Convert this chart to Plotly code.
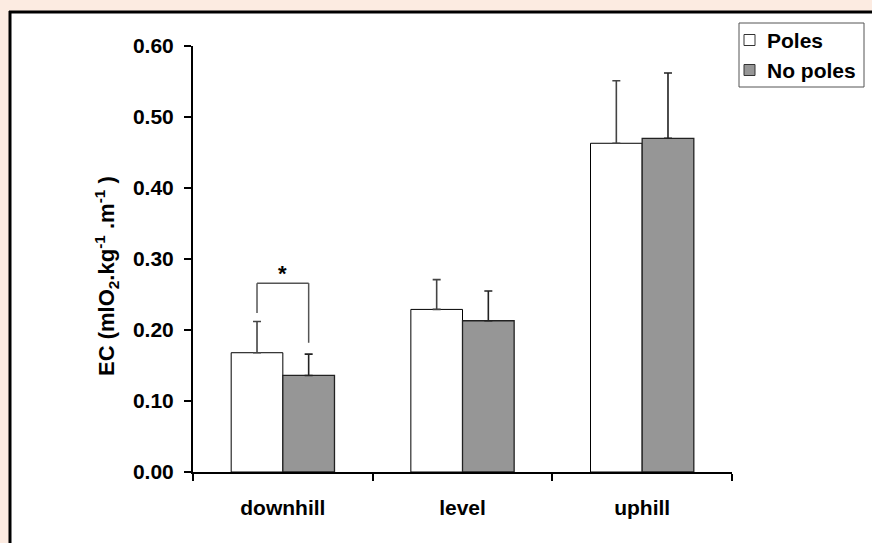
import plotly.graph_objects as go

# ---- data ----
categories = ["downhill", "level", "uphill"]
poles = [0.168, 0.229, 0.463]
poles_sd = [0.044, 0.042, 0.088]
no_poles = [0.136, 0.213, 0.470]
no_poles_sd = [0.030, 0.042, 0.092]
y_ticks = [0.0, 0.1, 0.2, 0.3, 0.4, 0.5, 0.6]
series_names = ["Poles", "No poles"]

# significance bracket (downhill) heights in data units
bracket_top = 0.266
bracket_left_bottom = 0.224
bracket_right_bottom = 0.182

W, H = 872, 543
ML, MR, MT, MB = 193, 140, 46, 71
PW, PH = W - ML - MR, H - MT - MB

BARGAP = 0.425
bar_w = (1 - BARGAP) / 2

FONT = "Liberation Sans, Arial, Helvetica, sans-serif"
FS = 21
PEACH = "#FCEBE1"
GREY = "#969696"
fills = ["white", GREY]


def px_x(px):
    return (px - ML) / PW


def px_y(py):
    return (H - MB - py) / PH


fig = go.Figure()
fig.add_trace(go.Bar(
    x=categories, y=poles, name=series_names[0], showlegend=False,
    marker=dict(color=fills[0], line=dict(color="black", width=1)),
    error_y=dict(type="data", symmetric=False, array=poles_sd,
                 arrayminus=[0] * len(poles), color="#444444",
                 thickness=1.6, width=4),
))
fig.add_trace(go.Bar(
    x=categories, y=no_poles, name=series_names[1], showlegend=False,
    marker=dict(color=fills[1], line=dict(color="#222222", width=1.3)),
    error_y=dict(type="data", symmetric=False, array=no_poles_sd,
                 arrayminus=[0] * len(no_poles), color="#222222",
                 thickness=1.6, width=4),
))

shapes = [
    # outer frame: white panel, then left and top borders
    dict(type="rect", xref="paper", yref="paper",
         x0=px_x(10), x1=px_x(W), y0=px_y(H), y1=px_y(12),
         line=dict(width=0), fillcolor="white", layer="below"),
    dict(type="line", xref="paper", yref="paper",
         x0=px_x(10), x1=px_x(10), y0=px_y(H), y1=px_y(11),
         line=dict(color="black", width=3), layer="below"),
    dict(type="line", xref="paper", yref="paper",
         x0=px_x(9), x1=px_x(W), y0=px_y(12), y1=px_y(12),
         line=dict(color="black", width=3), layer="below"),
    # legend box
    dict(type="rect", xref="paper", yref="paper",
         x0=px_x(739), x1=px_x(864), y0=px_y(87), y1=px_y(23),
         line=dict(color="#555555", width=1), fillcolor="white"),
]
annotations = []
for i, (name, fc) in enumerate(zip(series_names, fills)):
    cy = 40 + 30 * i
    shapes.append(dict(type="rect", xref="paper", yref="paper",
                       x0=px_x(744), x1=px_x(755), y0=px_y(cy + 5.5), y1=px_y(cy - 5.5),
                       line=dict(color="#333333", width=1), fillcolor=fc))
    annotations.append(dict(x=px_x(765), y=px_y(cy + 1), xref="paper", yref="paper",
                            text=name, showarrow=False, xanchor="left", yanchor="middle",
                            font=dict(family=FONT, size=FS, color="black", weight="bold")))

# bracket
lx = -bar_w / 2
rx = bar_w / 2
for x0, y0, x1, y1 in [(lx, bracket_left_bottom, lx, bracket_top),
                       (lx, bracket_top, rx, bracket_top),
                       (rx, bracket_top, rx, bracket_right_bottom)]:
    shapes.append(dict(type="line", xref="x", yref="y",
                       x0=x0, y0=y0, x1=x1, y1=y1,
                       line=dict(color="#555555", width=1.5)))

annotations += [
    dict(x=0, y=bracket_top, xref="x", yref="y", text="*",
         showarrow=False, yanchor="bottom", yshift=-5,
         font=dict(family=FONT, size=22, color="black")),
    dict(x=px_x(106), y=px_y(276), xref="paper", yref="paper",
         text="EC (mlO<sub>2</sub>.kg<sup>-1</sup> .m<sup>-1</sup> )",
         textangle=-90, showarrow=False, xanchor="center", yanchor="middle",
         font=dict(family=FONT, size=22, color="black", weight="bold")),
]

fig.update_layout(
    width=W, height=H, autosize=False,
    margin=dict(l=ML, r=MR, t=MT, b=MB, pad=0, autoexpand=False),
    paper_bgcolor=PEACH, plot_bgcolor="white",
    barmode="group", bargap=BARGAP, bargroupgap=0,
    font=dict(family=FONT, size=FS, color="black", weight="bold"),
    showlegend=False,
    shapes=shapes,
    annotations=annotations,
)
fig.update_xaxes(
    type="category", showline=True, linecolor="black", linewidth=2,
    ticks="outside", tickson="boundaries", ticklen=7, tickwidth=2,
    tickcolor="black", showgrid=False, zeroline=False, automargin=False,
    ticklabelstandoff=16,
    tickfont=dict(family=FONT, size=FS, color="black", weight="bold"),
)
fig.update_yaxes(
    range=[0, 0.6], tickvals=y_ticks, tickformat=".2f",
    showline=True, linecolor="black", linewidth=2,
    ticks="outside", ticklen=7, tickwidth=2, tickcolor="black",
    showgrid=False, zeroline=False, ticklabelstandoff=6, automargin=False,
    tickfont=dict(family=FONT, size=FS, color="black", weight="bold"),
)

fig.write_html(
    "out.html",
    config={"displayModeBar": False, "staticPlot": True},
    post_script="document.body.style.margin='0';document.body.style.overflow='hidden';",
)
